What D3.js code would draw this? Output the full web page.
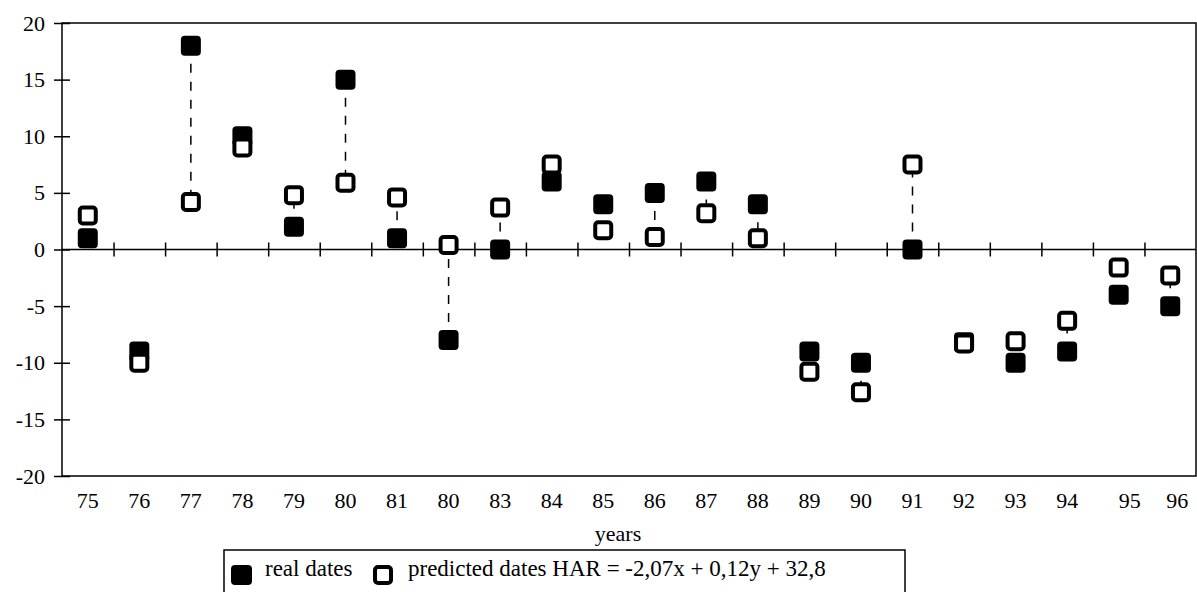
<!DOCTYPE html>
<html>
<head>
<meta charset="utf-8">
<script src="https://cdn.jsdelivr.net/npm/d3@7"></script>
<style>
  body { margin: 0; background: #fff; }
  text { font-family: "Liberation Serif", "Times New Roman", serif; fill: #000; }
</style>
</head>
<body>
<div id="chart"></div>
<script>
// years as printed under the axis (the second "80" is in the original)
var years = ["75","76","77","78","79","80","81","80","83","84","85","86","87","88","89","90","91","92","93","94","95","96"];
// real dates (filled squares)
var realDates = [1, -9, 18, 10, 2, 15, 1, -8, 0, 6, 4, 5, 6, 4, -9, -10, 0, -8.2, -10, -9, -4, -5];
// predicted dates HAR (open squares)
var predictedDates = [3, -10, 4.2, 9, 4.8, 5.9, 4.6, 0.4, 3.7, 7.5, 1.7, 1.1, 3.2, 1.0, -10.8, -12.6, 7.5, -8.3, -8.1, -6.3, -1.6, -2.3];
var yTicks = [-20, -15, -10, -5, 0, 5, 10, 15, 20];

var margin = {top: 23, right: 1, bottom: 116, left: 62},
    width = 1197 - margin.left - margin.right,
    height = 592 - margin.top - margin.bottom;

var svg = d3.select("#chart").append("svg")
    .attr("width", 1197)
    .attr("height", 592)
  .append("g")
    .attr("transform", "translate(" + margin.left + "," + margin.top + ")");

var x = d3.scaleBand()
    .domain(d3.range(years.length))
    .range([0, width]);

// boundaries between the year slots, used for the ticks on the zero line
var xb = d3.scaleLinear()
    .domain([0, years.length])
    .range([0, width]);

var y = d3.scaleLinear()
    .domain([-20, 20])
    .range([height, 0]);

// frame
svg.append("rect")
    .attr("width", width)
    .attr("height", height)
    .attr("fill", "none")
    .attr("stroke", "#000")
    .attr("stroke-width", 1.5);

// y axis, ticks cross the left edge
svg.append("g")
    .attr("class", "y axis")
    .attr("transform", "translate(8,0)")
    .call(d3.axisLeft(y).tickValues(yTicks).tickSize(16).tickPadding(9)
      .tickFormat(function(d) { return String(d); }))
    .call(function(g) { g.select(".domain").remove(); })
    .call(function(g) {
      g.selectAll("line").attr("stroke-width", 1.5);
      g.selectAll("text").style("font-size", "22px").style("font-family", "Liberation Serif");
    });

// zero line with ticks between the years
svg.append("line")
    .attr("x1", 0)
    .attr("x2", width)
    .attr("y1", y(0))
    .attr("y2", y(0))
    .attr("stroke", "#000")
    .attr("stroke-width", 1.5);

svg.append("g")
    .attr("class", "x zero")
    .attr("transform", "translate(0," + (y(0) - 7) + ")")
    .call(d3.axisBottom(xb).tickValues(d3.range(1, years.length)).tickSize(14).tickFormat(""))
    .call(function(g) { g.select(".domain").remove(); })
    .call(function(g) { g.selectAll("line").attr("stroke-width", 1.5); });

// year labels below the frame (95 and 96 sit a bit to the right in the original)
var nudge = {20: 11, 21: 7};
svg.append("g")
    .attr("class", "x axis")
    .attr("transform", "translate(0," + height + ")")
    .call(d3.axisBottom(x).tickSize(0).tickFormat(function(i) { return years[i]; }))
    .call(function(g) { g.select(".domain").remove(); })
    .call(function(g) {
      g.selectAll("text")
          .attr("y", 32)
          .attr("dy", 0)
          .style("font-size", "22px")
          .style("font-family", "Liberation Serif")
          .attr("dx", function(i) { return nudge[i] || 0; });
    });

svg.append("text")
    .attr("x", 618 - margin.left)
    .attr("y", 541 - margin.top)
    .attr("text-anchor", "middle")
    .style("font-size", "22px")
    .text("years");

var cx = function(i) { return x(i) + x.bandwidth() / 2; };

// dashed links between real and predicted
svg.selectAll(".link")
    .data(years)
  .enter().append("line")
    .attr("class", "link")
    .attr("x1", function(d, i) { return cx(i); })
    .attr("x2", function(d, i) { return cx(i); })
    .attr("y1", function(d, i) { return y(realDates[i]); })
    .attr("y2", function(d, i) { return y(predictedDates[i]); })
    .attr("stroke", "#000")
    .attr("stroke-width", 1.5)
    .attr("stroke-dasharray", "9,9");

svg.selectAll(".real")
    .data(realDates)
  .enter().append("rect")
    .attr("class", "real")
    .attr("x", function(d, i) { return cx(i) - 10; })
    .attr("y", function(d) { return y(d) - 10; })
    .attr("width", 20)
    .attr("height", 20)
    .attr("rx", 4)
    .attr("fill", "#000");

svg.selectAll(".pred")
    .data(predictedDates)
  .enter().append("rect")
    .attr("class", "pred")
    .attr("x", function(d, i) { return cx(i) - 8; })
    .attr("y", function(d) { return y(d) - 8; })
    .attr("width", 16)
    .attr("height", 16)
    .attr("rx", 3)
    .attr("fill", "#fff")
    .attr("stroke", "#000")
    .attr("stroke-width", 4);

// legend
var legend = svg.append("g")
    .attr("transform", "translate(" + (224 - margin.left) + "," + (550 - margin.top) + ")");

legend.append("rect")
    .attr("width", 681)
    .attr("height", 60)
    .attr("fill", "none")
    .attr("stroke", "#000")
    .attr("stroke-width", 1.5);

legend.append("rect")
    .attr("x", 7).attr("y", 15)
    .attr("width", 21).attr("height", 20)
    .attr("rx", 4)
    .attr("fill", "#000");

legend.append("text")
    .attr("x", 41).attr("y", 26)
    .style("font-size", "23px")
    .text("real dates");

legend.append("rect")
    .attr("x", 151).attr("y", 17)
    .attr("width", 16).attr("height", 16)
    .attr("rx", 3)
    .attr("fill", "#fff")
    .attr("stroke", "#000")
    .attr("stroke-width", 4);

legend.append("text")
    .attr("x", 184).attr("y", 26)
    .style("font-size", "23px")
    .text("predicted dates HAR = -2,07x + 0,12y + 32,8");
</script>
</body>
</html>
